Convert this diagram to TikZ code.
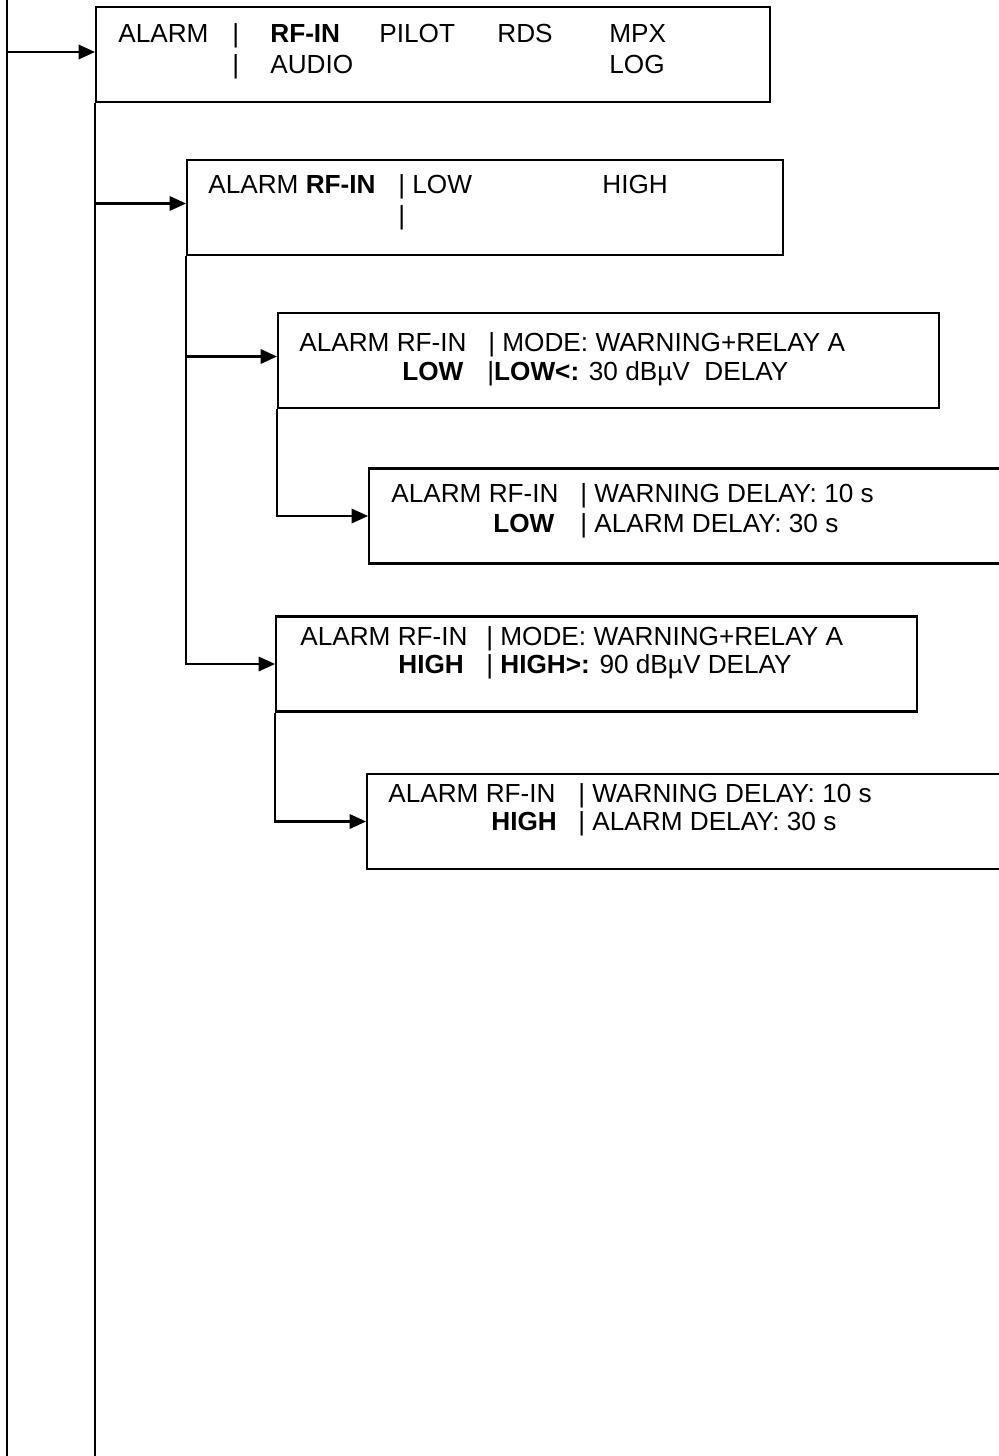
\documentclass[tikz,border=0pt]{standalone}
\usepackage{fontspec}
\setmainfont{Liberation Sans}
\usetikzlibrary{arrows.meta,positioning,calc}
\tikzset{
	menubox/.style={rectangle, draw=black, line width=1.2pt, minimum height=1.9cm, inner sep=0pt},
	menuarr/.style={-{Triangle[length=3.3mm, width=2.9mm]}, line width=1.2pt},
	menuline/.style={line width=1.2pt},
	menutxt/.style={anchor=base west, inner sep=0pt, font=\fontsize{14.9}{17.8}\selectfont}
}

\begin{document}
\begin{tikzpicture}[x=0.02cm, y=-0.02cm]
			\useasboundingbox (0,0) rectangle (999,1456);
			\clip (0,0) rectangle (999,1456);
			\node[menubox, minimum width=13.48cm] (alarm) at (433,54.5) {};
			\node[menubox, minimum width=11.92cm] (rfin) at (485,207.5) {};
			\node[menubox, minimum width=13.22cm] (low) at (608.5,360.5) {};
			\node[menubox, minimum width=16cm] (lowdly) at (769,516) {};
			\node[menubox, minimum width=12.82cm] (high) at (596.5,664) {};
			\node[menubox, minimum width=16cm] (highdly) at (767,821.5) {};
			\coordinate (top) at (7,0);
			\coordinate (bot) at (7,1456);
			\draw[menuline] (top)--(bot);
			\draw[menuarr] ([yshift=0.05cm]alarm.west -| top)--([yshift=0.05cm]alarm.west);
			\draw[menuline] (alarm.south west)--(alarm.south west |- bot);
			\draw[menuarr] ([yshift=0.08cm]rfin.west -| alarm.south west)--([yshift=0.08cm]rfin.west);
			\draw[menuarr] (rfin.south west) |- (high.west);
			\draw[menuarr] ([yshift=0.08cm]low.west -| rfin.south west)--([yshift=0.08cm]low.west);
			\draw[menuarr] (low.south west) |- (lowdly.west);
			\draw[menuarr] (high.south west) |- (highdly.west);
			% texts
			\node[menutxt] (a1) at (118,43) {ALARM};
			\node[menutxt] (a2) at (232,43) {|};
			\node[menutxt] (a3) at (270,43) {\textbf{RF-IN}};
			\node[menutxt] (a4) at (379,43) {PILOT};
			\node[menutxt] (a5) at (497,43) {RDS};
			\node[menutxt] (a6) at (609,43) {MPX};
			\node[menutxt] (a7) at (232,74) {|};
			\node[menutxt] (a8) at (270,74) {AUDIO};
			\node[menutxt] (a9) at (609,74) {LOG};
			\node[menutxt] (r1) at (208,194) {ALARM \textbf{RF-IN}};
			\node[menutxt] (r2) at (398,194) {|};
			\node[menutxt] (r3) at (412,194) {LOW};
			\node[menutxt] (r4) at (602,194) {HIGH};
			\node[menutxt] (r5) at (398,225) {|};
			\node[menutxt] (l1) at (299,351) {ALARM RF-IN};
			\node[menutxt] (l2) at (488,351) {| MODE: WARNING+RELAY A};
			\node[menutxt] (l3) at (402,380) {\textbf{LOW}};
			\node[menutxt] (l4) at (487,380) {|\textbf{LOW<:} 30 dBµV\ \ DELAY};
			\node[menutxt] (ld1) at (391,502) {ALARM RF-IN};
			\node[menutxt] (ld2) at (580,502) {| WARNING DELAY: 10 s};
			\node[menutxt] (ld3) at (493,532) {\textbf{LOW}};
			\node[menutxt] (ld4) at (580,532) {| ALARM DELAY: 30 s};
			\node[menutxt] (h1) at (300,645) {ALARM RF-IN};
			\node[menutxt] (h2) at (486,645) {| MODE: WARNING+RELAY A};
			\node[menutxt] (h3) at (398,673) {\textbf{HIGH}};
			\node[menutxt] (h4) at (486,673) {| \textbf{HIGH>:} 90 dBµV DELAY};
			\node[menutxt] (hd1) at (388,802) {ALARM RF-IN};
			\node[menutxt] (hd2) at (578,802) {| WARNING DELAY: 10 s};
			\node[menutxt] (hd3) at (491,830) {\textbf{HIGH}};
			\node[menutxt] (hd4) at (578,830) {| ALARM DELAY: 30 s};
		\end{tikzpicture}
\end{document}
